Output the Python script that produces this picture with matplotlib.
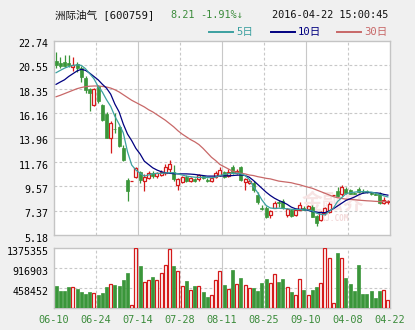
import numpy as np
import matplotlib.pyplot as plt
import matplotlib.transforms as mtransforms
from matplotlib.lines import Line2D

plt.rcParams['font.family'] = ['DejaVu Sans Mono', 'Noto Sans CJK SC']

# 日K 数据 (开, 高, 低, 收)
opens = [20.90, 20.74, 20.81, 20.74, 20.33, 20.63, 20.24, 19.36, 18.34, 16.92,
         18.60, 16.92, 16.10, 13.90, 14.80, 14.90, 13.01, 10.15, 10.07, 10.45,
         10.90, 10.08, 10.30, 10.81, 10.51, 10.60, 10.75, 11.10, 10.90, 9.70,
         10.00, 10.39, 10.10, 10.20, 10.20, 10.50, 10.15, 10.10, 10.39, 10.60,
         10.84, 10.55, 11.30, 10.80, 11.35, 9.95, 9.85, 9.85, 8.79, 7.65,
         7.59, 6.96, 7.65, 8.19, 8.25, 6.99, 7.44, 6.96, 7.44, 7.65,
         7.50, 7.74, 6.89, 6.53, 7.20, 7.28, 8.75, 9.18, 8.85, 9.31,
         9.20, 9.00, 9.30, 9.10, 9.15, 9.00, 8.85, 8.95, 8.05, 8.12]
highs = [21.74, 21.23, 21.41, 21.44, 21.29, 20.84, 20.45, 19.54, 18.46, 18.43,
         18.75, 17.00, 16.30, 15.45, 16.17, 15.00, 13.30, 10.33, 10.07, 11.30,
         11.00, 10.69, 10.99, 11.00, 10.90, 11.06, 11.60, 11.95, 11.50, 10.30,
         10.50, 10.60, 10.40, 10.30, 10.70, 10.60, 10.30, 10.35, 10.96, 11.35,
         10.95, 11.15, 11.50, 11.10, 11.45, 10.30, 10.25, 10.10, 9.10, 7.85,
         7.80, 7.40, 8.25, 8.35, 8.40, 7.59, 7.55, 7.50, 8.20, 7.80,
         7.85, 7.90, 6.95, 7.35, 7.75, 8.20, 8.78, 9.50, 9.70, 9.50,
         9.35, 9.10, 9.55, 9.30, 9.25, 9.10, 8.95, 9.05, 8.60, 8.30]
lows = [20.24, 20.24, 20.33, 20.38, 20.02, 19.93, 19.03, 18.00, 16.40, 16.83,
        17.10, 15.45, 13.90, 12.60, 14.42, 13.10, 11.90, 8.28, 10.07, 10.30,
        9.90, 9.18, 10.20, 10.30, 10.30, 10.50, 10.60, 10.90, 10.10, 9.24,
        9.90, 10.00, 10.00, 9.95, 10.10, 10.20, 9.95, 10.00, 10.30, 10.50,
        10.35, 10.45, 10.70, 10.70, 10.10, 9.20, 9.75, 9.10, 8.00, 7.45,
        6.70, 6.70, 7.60, 7.75, 7.50, 6.85, 6.85, 6.90, 7.40, 7.40,
        7.45, 6.80, 6.00, 6.45, 6.95, 7.20, 8.75, 8.60, 8.70, 8.90,
        8.85, 8.85, 9.00, 9.00, 9.00, 8.80, 8.75, 8.00, 8.00, 8.00]
closes = [20.54, 20.47, 20.45, 20.54, 20.54, 20.24, 19.48, 18.28, 17.98, 18.34,
          17.25, 15.57, 13.95, 15.30, 14.72, 13.20, 11.95, 9.15, 10.07, 11.20,
          10.15, 10.45, 10.81, 10.51, 10.75, 10.90, 11.30, 11.60, 10.21, 10.21,
          10.45, 10.09, 10.30, 10.05, 10.60, 10.30, 10.05, 10.30, 10.75, 11.05,
          10.45, 10.90, 10.75, 11.00, 10.15, 10.20, 10.08, 9.24, 8.19, 7.55,
          6.83, 7.37, 8.05, 8.05, 7.59, 7.55, 6.90, 7.44, 7.89, 7.44,
          7.80, 6.83, 6.23, 7.28, 7.60, 7.98, 8.78, 8.70, 9.54, 8.95,
          8.90, 8.90, 9.05, 9.05, 9.05, 8.85, 8.80, 8.05, 8.37, 8.21]
volumes = [512000, 405000, 405000, 489000, 481000, 443000, 374000, 329000, 374000, 344000,
           306000, 351000, 489000, 550000, 527000, 512000, 657000, 810000, 69000, 1375355,
           978000, 596000, 650000, 711000, 650000, 802000, 993000, 1352000, 978000, 848000,
           512000, 634000, 428000, 512000, 512000, 374000, 267000, 306000, 650000, 856000,
           535000, 443000, 879000, 558000, 688000, 535000, 466000, 466000, 405000, 581000,
           672000, 581000, 779000, 604000, 672000, 489000, 374000, 306000, 672000, 420000,
           306000, 420000, 489000, 581000, 1372000, 1154000, 115000, 1268000, 1154000, 695000,
           558000, 397000, 993000, 329000, 329000, 397000, 237000, 397000, 420000, 191000]

# 均线
ma5 = [19.84, 20.05, 20.25, 20.40, 20.50, 20.55, 20.50, 20.20, 19.75, 19.30,
       18.60, 18.10, 17.40, 16.80, 15.90, 15.20, 14.40, 12.70, 11.50, 11.05,
       10.75, 10.50, 10.60, 10.70, 10.75, 10.75, 10.78, 10.80, 10.80, 10.72,
       10.60, 10.50, 10.45, 10.40, 10.38, 10.40, 10.38, 10.35, 10.40, 10.55,
       10.65, 10.72, 10.75, 10.75, 10.70, 10.55, 10.20, 9.55, 9.00, 8.35,
       7.85, 7.62, 7.58, 7.60, 7.58, 7.55, 7.50, 7.48, 7.48, 7.45,
       7.45, 7.35, 7.15, 7.05, 7.00, 7.30, 7.60, 8.20, 8.55, 8.90,
       9.00, 9.05, 9.10, 9.10, 9.08, 9.05, 8.98, 8.85, 8.72, 8.62]
ma10 = [18.79, 19.00, 19.20, 19.50, 19.75, 20.00, 20.15, 20.05, 19.80, 19.50,
        19.20, 18.80, 18.45, 17.90, 17.00, 16.30, 15.20, 14.30, 13.70, 13.00,
        12.50, 11.85, 11.55, 11.25, 11.05, 10.90, 10.80, 10.75, 10.72, 10.70,
        10.70, 10.70, 10.68, 10.65, 10.60, 10.55, 10.50, 10.50, 10.50, 10.50,
        10.52, 10.53, 10.55, 10.58, 10.60, 10.55, 10.40, 10.10, 9.75, 9.40,
        9.05, 8.75, 8.50, 8.30, 8.15, 7.95, 7.70, 7.55, 7.50, 7.48,
        7.40, 7.30, 7.25, 7.20, 7.20, 7.35, 7.55, 7.80, 8.05, 8.30,
        8.45, 8.60, 8.80, 8.95, 9.00, 9.02, 9.00, 8.95, 8.85, 8.78]
ma30 = [17.67, 17.80, 17.95, 18.10, 18.25, 18.40, 18.50, 18.58, 18.62, 18.64,
        18.64, 18.60, 18.55, 18.45, 18.30, 18.10, 17.85, 17.60, 17.35, 17.15,
        16.95, 16.75, 16.50, 16.30, 16.05, 15.80, 15.55, 15.25, 14.95, 14.60,
        14.30, 14.05, 13.80, 13.60, 13.35, 13.00, 12.60, 12.20, 11.90, 11.55,
        11.35, 11.15, 10.95, 10.85, 10.75, 10.70, 10.60, 10.55, 10.45, 10.38,
        10.30, 10.25, 10.15, 10.05, 10.00, 9.95, 9.90, 9.80, 9.72, 9.60,
        9.50, 9.40, 9.25, 9.10, 8.95, 8.80, 8.65, 8.55, 8.48, 8.42,
        8.40, 8.37, 8.33, 8.30, 8.27, 8.25, 8.22, 8.20, 8.20, 8.20]

date_labels = ['06-10', '06-24', '07-14', '07-28', '08-11', '08-25', '09-10', '04-08', '04-22']
price_ticks = [5.18, 7.37, 9.57, 11.76, 13.96, 16.16, 18.35, 20.55, 22.74]
volume_ticks = [458452, 916903, 1375355]

UP = '#d41a1a'
DOWN = '#3a963a'
GRID = '#c8c8c8'
FRAME = '#c4c4c4'
C5, C10, C30 = '#3ca0a0', '#000080', '#c86868'
W, H = 415, 330

fig = plt.figure(figsize=(W / 100, H / 100), dpi=100, facecolor='#f0f0f0')
ax1 = fig.add_axes([54 / W, 1 - 235 / H, 336 / W, 194.4 / H])
ax2 = fig.add_axes([54 / W, 1 - 308.3 / H, 336 / W, 60 / H])

n = len(closes)
x = np.arange(n)
o, h, l, c = map(np.array, (opens, highs, lows, closes))
up = c >= o
body_lo = np.minimum(o, c)
body_hi = np.maximum(o, c)
body_h = np.maximum(body_hi - body_lo, 0.03)
bw = 0.68

for ax in (ax1, ax2):
    ax.set_facecolor('white')
    ax.set_xlim(-0.5, n - 0.5)
    for s in ax.spines.values():
        s.set_color(FRAME)
        s.set_linewidth(1.0)
    # 竖向网格: 每 10 根一格, 中间和四分位处为实线
    for k in range(1, 8):
        ls = '-' if k % 2 == 0 else (0, (2.5, 2))
        ax.axvline(k * 10 - 0.5, color=GRID, lw=0.8, ls=ls, zorder=0)
    ax.tick_params(length=0, labelsize=7.2, pad=4)

# 价格
ax1.set_ylim(price_ticks[0], price_ticks[-1])
ax1.set_yticks(price_ticks)
ax1.set_yticklabels([f'{v:.2f}' for v in price_ticks])
for i, v in enumerate(price_ticks[1:-1], 1):
    ax1.axhline(v, color=GRID, lw=0.8, ls='-' if i == 4 else (0, (2.5, 2)), zorder=0)
ax1.set_xticks([])

ax1.vlines(x[up], body_hi[up], h[up], color=UP, lw=0.9, zorder=2)
ax1.vlines(x[up], l[up], body_lo[up], color=UP, lw=0.9, zorder=2)
ax1.vlines(x[~up], l[~up], h[~up], color=DOWN, lw=0.9, zorder=2)
ax1.bar(x[up], body_h[up], bottom=body_lo[up], width=bw, facecolor='white',
        edgecolor=UP, lw=0.9, zorder=3)
ax1.bar(x[~up], body_h[~up], bottom=body_lo[~up], width=bw, color=DOWN,
        edgecolor=DOWN, lw=0.5, zorder=3)

ax1.plot(x, ma30, color=C30, lw=0.9, zorder=4)
ax1.plot(x, ma10, color=C10, lw=0.9, zorder=5)
ax1.plot(x, ma5, color=C5, lw=0.9, zorder=6)

# 水印
ax1.text(66, 8.1, '金融界', fontsize=15, color='#f7e4e4', ha='center', va='center',
         zorder=1, fontweight='bold')
ax1.text(66, 6.7, 'JRJ.COM', fontsize=5.5, color='#f2d8d8', ha='center', va='center',
         zorder=1, fontweight='bold')

# 成交量
v = np.array(volumes)
ax2.set_ylim(0, volume_ticks[-1])
ax2.set_yticks(volume_ticks)
ax2.set_yticklabels([str(t) for t in volume_ticks])
for t in volume_ticks[:-1]:
    ax2.axhline(t, color=GRID, lw=0.8, ls=(0, (2.5, 2)), zorder=0)
ax2.bar(x[up], v[up], width=bw, facecolor='white', edgecolor=UP, lw=0.9, zorder=3)
ax2.bar(x[~up], v[~up], width=bw, color=DOWN, edgecolor=DOWN, lw=0.5, zorder=3)
ax2.set_xticks(np.arange(len(date_labels)) * 10 - 0.5)
ax2.set_xticklabels(date_labels, color='#3c8c3c', fontsize=7.4)
ax2.tick_params(axis='x', pad=5)

# 刻度文字略微下移
shift = mtransforms.ScaledTranslation(0, -1.8 / 72, fig.dpi_scale_trans)
for ax in (ax1, ax2):
    for lbl in ax.get_yticklabels():
        lbl.set_transform(lbl.get_transform() + shift)


def fx(px):
    return px / W


def fy(py):
    return 1 - py / H


fig.text(fx(55), fy(15), '洲际油气 [600759]', fontsize=7.6, va='center', color='#111111')
fig.text(fx(170), fy(15), '8.21', fontsize=7.4, va='center', color='#3c8c3c')
fig.text(fx(200), fy(15), '-1.91%↓', fontsize=7.4, va='center', color='#3c8c3c')
fig.text(fx(388), fy(15), '2016-04-22 15:00:45', fontsize=7.4, va='center', ha='right',
         color='#111111')

for x0, label, col in [(209, '5日', C5), (271, '10日', C10), (337, '30日', C30)]:
    fig.add_artist(Line2D([fx(x0), fx(x0 + 24)], [fy(32), fy(32)], color=col, lw=1.4))
    fig.text(fx(x0 + 27), fy(32), label, fontsize=7.6, va='center', color=col)

fig.savefig('out.png', dpi=100, facecolor=fig.get_facecolor())
